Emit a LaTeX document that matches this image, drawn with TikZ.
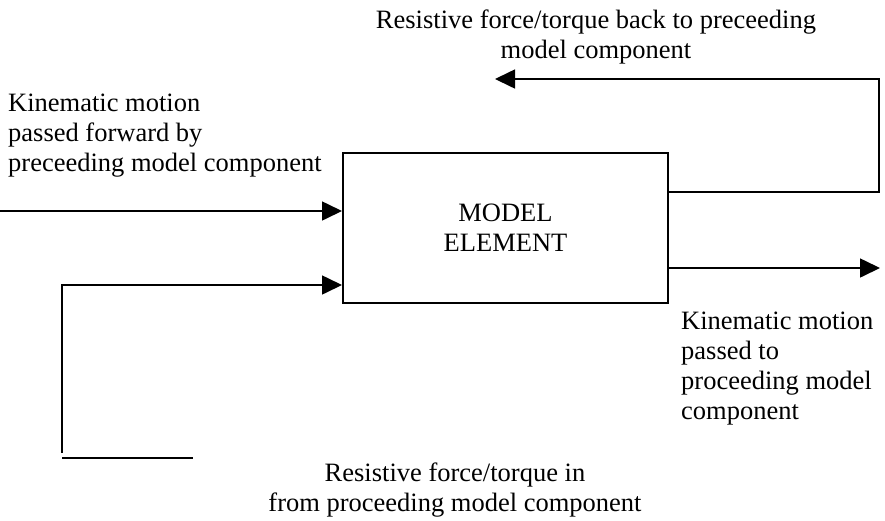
\documentclass[tikz,border=0pt]{standalone}
\usepackage{fontspec}
\setmainfont{Liberation Serif}
\usetikzlibrary{arrows.meta,calc}

\begin{document}
\begin{tikzpicture}[x=1pt,y=-1pt,
 conn/.style={line width=1.6pt},
 arr/.style={conn,-{Triangle[length=20pt,width=19pt]}},
 lbl/.style={inner sep=0pt,font=\fontsize{26.5}{30}\selectfont}]
\useasboundingbox (0,0) rectangle (885,520);
% central block
\node[lbl,draw,line width=2pt,minimum width=325pt,minimum height=150pt,align=center] (elem) at (505.5,228)
 {MODEL\\ELEMENT};
% labels
\node[lbl,anchor=north west,align=left] (fwdlabel) at (8,94)
 {Kinematic motion\\passed forward by\\preceeding model component};
\node[lbl,anchor=north,align=center] (backlabel) at (596,10)
 {Resistive force/torque back to preceeding\\model component};
\node[lbl,anchor=north west,align=left] (outlabel) at (681,312)
 {Kinematic motion\\passed to\\proceeding model\\component};
\node[lbl,anchor=north,align=center] (inlabel) at (455,463)
 {Resistive force/torque in\\from proceeding model component};
% connectors
\coordinate (in1) at (0,211);
\coordinate (in2) at (62,453);
\coordinate (out) at (880,268);
\coordinate (fbcorner) at (879,79);
\coordinate (fbend) at (495,79);
\coordinate (baseL) at (62,458);
\coordinate (baseR) at (193,458);
\draw[arr] (in1) -- (in1 -| elem.west);
\draw[arr] (in2) |- ($(elem.west)+(0,57)$);
\draw[arr] (out -| elem.east) -- (out);
\draw[arr] ($(elem.east)+(0,-36)$) -| (fbcorner) -- (fbend);
\draw[conn] (baseL) -- (baseR);
\end{tikzpicture}
\end{document}
